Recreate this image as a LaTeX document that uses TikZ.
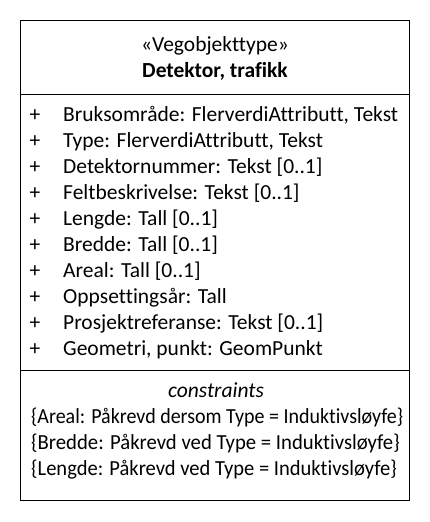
\documentclass[tikz,border=0pt]{standalone}
\usepackage{fontspec}
\usepackage{graphicx}
\setmainfont{Carlito}[Ligatures=NoCommon]
\begin{document}
\begin{tikzpicture}[x=1pt,y=-1pt,
  txt/.style={inner sep=0pt,font=\fontsize{21.5}{24}\selectfont},
  attr/.style={txt,anchor=base west},
  vis/.style={txt,anchor=base},
  frame/.style={draw=black,line width=0.9pt}]
\useasboundingbox (0,0) rectangle (430,522);
% class box and compartments
\draw[frame] (20.5,20.5) rectangle (409.5,500.5);
\draw[frame] (20.5,94.5) -- (409.5,94.5);
\draw[frame] (20.5,370.5) -- (409.5,370.5);
% header
\node[vis] (stereo) at (215,51) {«Vegobjekttype»};
\node[vis,font=\fontsize{21.5}{24}\selectfont\bfseries] (name) at (215,77) {Detektor, trafikk};
% attributes
\foreach \i/\t in {0/{Bruksområde: FlerverdiAttributt, Tekst},
                   1/{Type: FlerverdiAttributt, Tekst},
                   2/{Detektornummer: Tekst [0..1]},
                   3/{Feltbeskrivelse: Tekst [0..1]},
                   4/{Lengde: Tall [0..1]},
                   5/{Bredde: Tall [0..1]},
                   6/{Areal: Tall [0..1]},
                   7/{Oppsettingsår: Tall},
                   8/{Prosjektreferanse: Tekst [0..1]},
                   9/{Geometri, punkt: GeomPunkt}} {
  \node[vis] (vis\i) at (35,121+26*\i) {+};
  \node[attr] (attr\i) at (63,121+26*\i) {\t};
}
% constraints
\node[vis,font=\fontsize{21.5}{24}\selectfont\itshape] (ctitle) at (216,397) {constraints};
\node[attr] (c1) at (31,423) {\scalebox{0.93}[1]{\{Areal: Påkrevd dersom Type = Induktivsløyfe\}}};
\node[attr] (c2) at (31,449) {\scalebox{0.963}[1]{\{Bredde: Påkrevd ved Type = Induktivsløyfe\}}};
\node[attr] (c3) at (31,475) {\scalebox{0.955}[1]{\{Lengde: Påkrevd ved Type = Induktivsløyfe\}}};
\end{tikzpicture}
\end{document}
